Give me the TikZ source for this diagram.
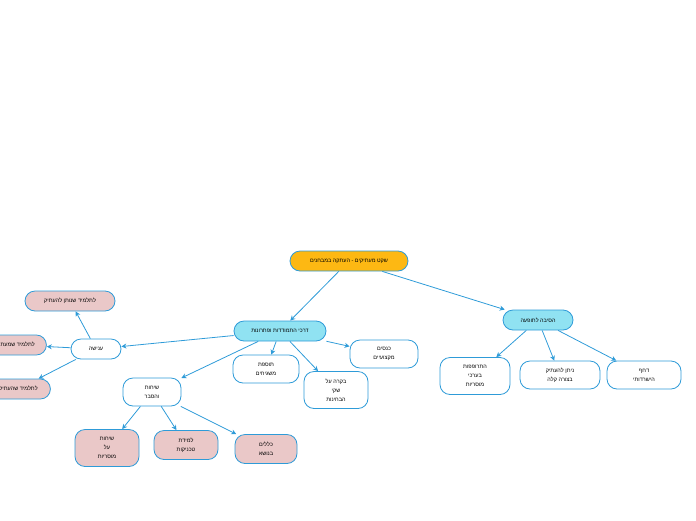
\documentclass[tikz,border=0pt]{standalone}
\usepackage{fontspec}
\setmainfont{Liberation Sans}
\TeXXeTstate=1
\usetikzlibrary{arrows.meta}
\definecolor{lineblue}{HTML}{2E9BD8}
\definecolor{rootorange}{HTML}{FDB813}
\definecolor{midcyan}{HTML}{90E2F2}
\definecolor{leafpink}{HTML}{EAC8C8}
\newcommand{\heb}[1]{\beginR #1\endR}
\tikzset{
	box/.style = {draw = lineblue, thick, rounded corners = 10pt, align = center, font = \fontsize{5.5}{9}\selectfont, inner sep = 2pt},
	conn/.style = {draw = lineblue, thick, -{Stealth[length = 5pt, width = 5pt]}}
}
\begin{document}
\begin{tikzpicture}[x = 1pt, y = -1pt]
	\useasboundingbox (0, 0) rectangle (696, 520);
	\clip (0, 0) rectangle (696, 520);
	
	\node[box, fill = rootorange, minimum width = 118pt, minimum height = 20pt] (root) at (349, 261) {\heb{שקט מעתיקים - העתקה במבחנים}};
	\node[box, fill = midcyan, minimum width = 92pt, minimum height = 20pt] (ways) at (280, 331) {\heb{דרכי התמודדות ופתרונות}};
	\node[box, fill = midcyan, minimum width = 70pt, minimum height = 20pt] (cause) at (538, 320) {\heb{הסיבה לתופעה}};
	
	\node[box, fill = white, minimum width = 70pt, minimum height = 37pt] (decline) at (475, 376) {\heb{התרופפות}\\\heb{בערכי}\\\heb{מוסריות}};
	\node[box, fill = white, minimum width = 80pt, minimum height = 28pt] (easy) at (560, 375) {\heb{ניתן להעתיק}\\\heb{בצורה קלה}};
	\node[box, fill = white, minimum width = 74pt, minimum height = 28pt] (urge) at (644, 375) {\heb{דחף}\\\heb{הישרדותי}};
	
	\node[box, fill = white, minimum width = 68pt, minimum height = 28pt] (conf) at (384, 354) {\heb{כנסים}\\\heb{מקצועיים}};
	\node[box, fill = white, minimum width = 64pt, minimum height = 37pt] (control) at (336, 390) {\heb{בקרה על}\\\heb{שקי}\\\heb{הבחינות}};
	\node[box, fill = white, minimum width = 66pt, minimum height = 28pt] (guards) at (266, 369) {\heb{תוספת}\\\heb{משגיחים}};
	\node[box, fill = white, minimum width = 58pt, minimum height = 28pt] (talks) at (152, 392) {\heb{שיחות}\\\heb{והסבר}};
	\node[box, fill = white, minimum width = 50pt, minimum height = 20pt] (punish) at (96, 349) {\heb{ענישה}};
	
	\node[box, fill = leafpink, minimum width = 90pt, minimum height = 20pt] (giver) at (70, 301) {\heb{לתלמיד שנותן להעתיק}};
	\node[box, fill = leafpink, minimum width = 62pt, minimum height = 20pt, anchor = west] (copier) at (-16, 345) {\heb{לתלמיד שמעתיק}};
	\node[box, fill = leafpink, minimum width = 64pt, minimum height = 20pt, anchor = west] (copied) at (-14, 389) {\heb{לתלמיד שהעתיק}};
	
	\node[box, fill = leafpink, minimum width = 64pt, minimum height = 37pt] (moral) at (107, 448) {\heb{שיחות}\\\heb{על}\\\heb{מוסריות}};
	\node[box, fill = leafpink, minimum width = 64pt, minimum height = 29pt] (tech) at (186, 445) {\heb{למידת}\\\heb{טכניקות}};
	\node[box, fill = leafpink, minimum width = 62pt, minimum height = 29pt] (rules) at (266, 449) {\heb{כללים}\\\heb{בנושא}};
	
	\draw[conn] (root) -- (ways);
	\draw[conn] (root) -- (cause);
	\draw[conn] (cause) -- (decline);
	\draw[conn] (cause) -- (easy);
	\draw[conn] (cause) -- (urge);
	\draw[conn] (ways) -- (conf);
	\draw[conn] (ways) -- (control);
	\draw[conn] (ways) -- (guards);
	\draw[conn] (ways) -- (talks);
	\draw[conn] (ways) -- (punish);
	\draw[conn] (punish) -- (giver);
	\draw[conn] (punish) -- (copier);
	\draw[conn] (punish) -- (copied);
	\draw[conn] (talks) -- (moral);
	\draw[conn] (talks) -- (tech);
	\draw[conn] (talks) -- (rules);
\end{tikzpicture}
\end{document}
